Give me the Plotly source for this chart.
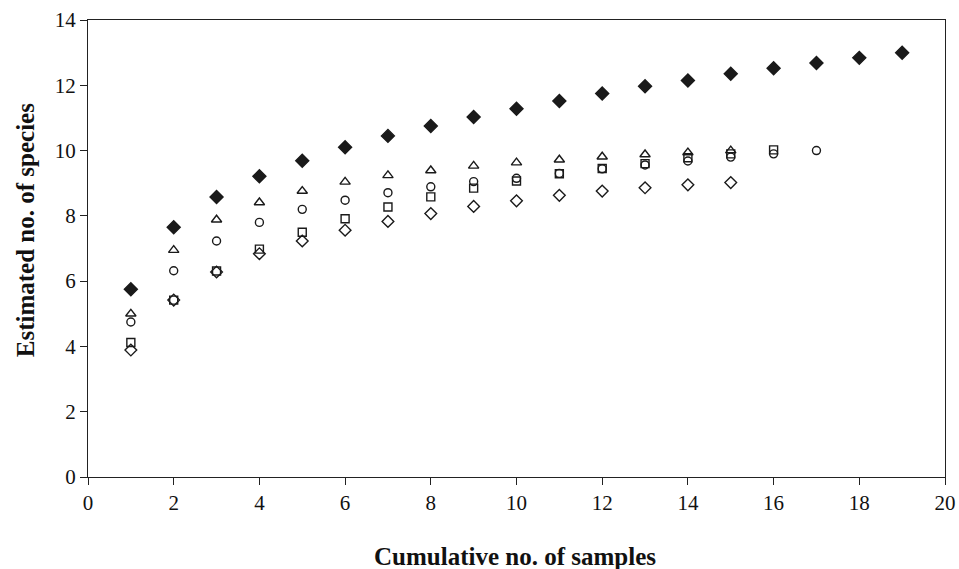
import plotly.graph_objects as go

samples_a = list(range(1, 20))
est_filled_diamond = [5.75, 7.65, 8.58, 9.21, 9.69, 10.1, 10.45, 10.75, 11.03, 11.28,
                      11.52, 11.75, 11.97, 12.15, 12.35, 12.52, 12.68, 12.84, 13.0]

samples_b = list(range(1, 16))
est_triangle = [5.0, 6.95, 7.88, 8.41, 8.76, 9.04, 9.24, 9.39, 9.53, 9.63,
                9.72, 9.81, 9.88, 9.94, 10.0]

samples_c = list(range(1, 18))
est_circle = [4.75, 6.32, 7.23, 7.8, 8.2, 8.48, 8.71, 8.89, 9.05, 9.15,
              9.3, 9.44, 9.56, 9.68, 9.8, 9.9, 10.0]

samples_d = list(range(1, 17))
est_square = [4.12, 5.42, 6.31, 6.98, 7.5, 7.91, 8.27, 8.58, 8.85, 9.07,
              9.29, 9.45, 9.6, 9.78, 9.9, 10.02]

samples_e = list(range(1, 16))
est_open_diamond = [3.89, 5.42, 6.28, 6.84, 7.23, 7.56, 7.83, 8.07, 8.29, 8.46,
                    8.63, 8.76, 8.86, 8.95, 9.02]

x_ticks = list(range(0, 21, 2))
y_ticks = list(range(0, 15, 2))

ink = "#1a1a1a"
fig = go.Figure()

def add(x, y, symbol, size):
    fig.add_trace(go.Scatter(
        x=x, y=y, mode="markers", showlegend=False, cliponaxis=False,
        hoverinfo="skip",
        marker=dict(symbol=symbol, size=size, color=ink,
                    line=dict(color=ink, width=1.4)),
    ))

add(samples_e, est_open_diamond, "diamond-open", 9)
add(samples_d, est_square, "square-open", 8)
add(samples_c, est_circle, "circle-open", 8)
add(samples_b, est_triangle, "triangle-up-open", 9)
add(samples_a, est_filled_diamond, "diamond", 10)

axis_common = dict(
    showline=True, linecolor="#222", linewidth=1.3, mirror=True,
    ticks="outside", ticklen=7, tickwidth=1.3, tickcolor="#222",
    showgrid=False, zeroline=False, automargin=False,
    tickfont=dict(family="Liberation Serif", size=21, color="#111"),
)

title_font = dict(family="Liberation Serif", size=25, color="#111")

fig.update_layout(
    width=959, height=569,
    margin=dict(l=88, r=14, t=20, b=92),
    plot_bgcolor="white", paper_bgcolor="white",
    xaxis=dict(range=[0, 20], tickvals=x_ticks, **axis_common),
    yaxis=dict(range=[0, 14], tickvals=y_ticks, **axis_common),
    annotations=[
        dict(text="<b>Cumulative no. of samples</b>", xref="paper", yref="paper",
             x=0.498, y=-0.175, showarrow=False, font=title_font,
             xanchor="center", yanchor="middle"),
        dict(text="<b>Estimated no. of species</b>", xref="paper", yref="paper",
             x=-0.0735, y=0.54, showarrow=False, font=title_font, textangle=-90,
             xanchor="center", yanchor="middle"),
    ],
)

fig.write_html("out.html", config={"displayModeBar": False},
               post_script="document.body.style.margin='0';document.body.style.overflow='hidden';")
